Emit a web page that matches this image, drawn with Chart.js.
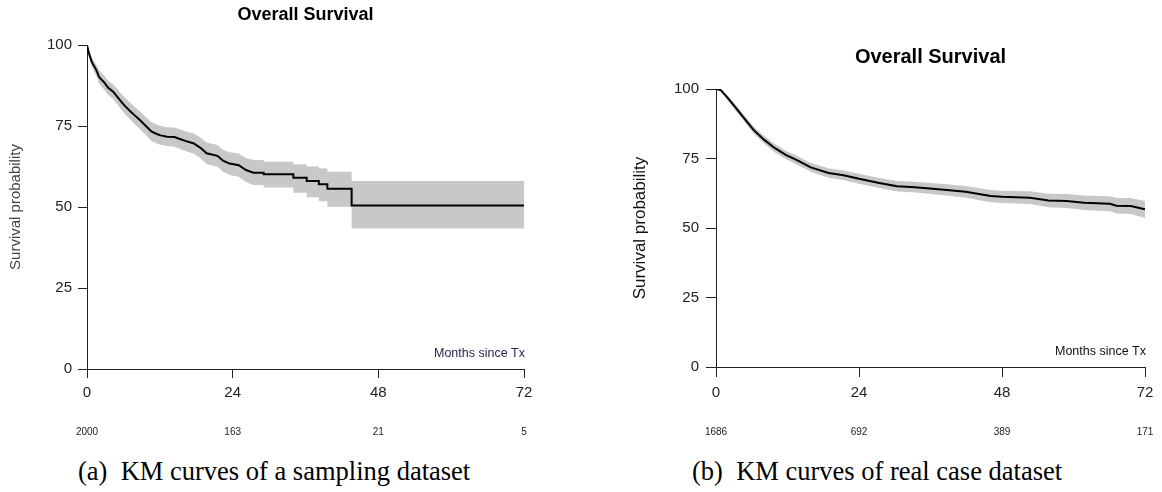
<!DOCTYPE html>
<html>
<head>
<meta charset="utf-8">
<script src="https://cdn.jsdelivr.net/npm/chart.js@4.4.1/dist/chart.umd.min.js"></script>
<style>
  body { margin: 0; background: #fff; width: 1162px; height: 492px; overflow: hidden; position: relative; }
  .panel { position: absolute; top: 0; height: 445px; }
  .caption { position: absolute; top: 456px; font-family: "Liberation Serif", "Times New Roman", serif; font-size: 26.5px; color: #000; white-space: pre; }
</style>
</head>
<body>
<div class="panel" style="left:0;width:560px"><canvas id="leftChart"></canvas></div>
<div class="panel" style="left:600px;width:562px"><canvas id="rightChart"></canvas></div>
<div class="caption" style="left:78px">(a)  KM curves of a sampling dataset</div>
<div class="caption" style="left:692px">(b)  KM curves of real case dataset</div>
<script>
// sampling dataset (left)
const leftTimes = [0, 0.3, 0.8, 1.5, 2.0, 2.8, 3.5, 4.3, 5.0, 5.6, 6.2, 7.0, 7.9, 8.8, 9.7, 10.6, 11.4, 12.1, 13.2, 14.4,
  15.3, 16.2, 17.6, 18.8, 19.7, 21.5, 22.4, 23.5, 25.0, 26.2, 27.4, 29.1, 29.1, 34.0, 34.0, 36.2, 36.2, 38.2, 38.2,
  39.6, 39.6, 43.6, 43.6, 72];
const leftSurv = [100, 97.5, 94.7, 92.4, 90.1, 88.5, 86.8, 85.6, 84.0, 82.6, 81.3, 79.8, 78.2, 76.7, 75.0, 73.3, 72.6, 72.1, 71.7, 71.6,
  71.0, 70.4, 69.6, 68.1, 66.6, 65.8, 64.3, 63.4, 62.9, 61.4, 60.6, 60.6, 60.1, 60.1, 59.0, 59.0, 58.0, 58.0, 57.0,
  57.0, 55.6, 55.6, 50.5, 50.5];
const leftUpper = [100, 98.5, 96.2, 94.0, 92.2, 90.6, 89.0, 87.9, 86.4, 85.0, 83.8, 82.4, 80.9, 79.4, 77.8, 76.2, 75.5, 75.0, 74.6, 74.5,
  74.0, 73.4, 72.7, 71.3, 69.9, 69.1, 67.7, 66.9, 66.5, 65.1, 64.5, 64.5, 64.0, 64.0, 63.2, 63.2, 62.5, 62.5, 61.9,
  61.9, 60.9, 60.9, 58.0, 58.0];
const leftLower = [100, 96.5, 93.2, 90.6, 88.1, 86.3, 84.6, 83.3, 81.6, 80.2, 78.8, 77.2, 75.5, 73.9, 72.2, 70.4, 69.7, 69.2, 68.8, 68.6,
  68.0, 67.3, 66.4, 64.9, 63.3, 62.4, 60.9, 59.9, 59.3, 57.7, 56.8, 56.8, 56.0, 56.0, 54.4, 54.4, 53.0, 53.0, 51.8,
  51.8, 50.1, 50.1, 43.4, 43.4];
const leftRisk = ["2000", "163", "21", "5"];

// real case dataset (right)
const rightTimes = [0, 0.8, 2.0, 3.3, 4.5, 6.3, 8.1, 9.9, 11.7, 13.5, 15.9, 18.9, 21.4, 24, 27.4, 30.4, 33.4, 38.3, 41.9,
  46.1, 48, 52.7, 55.8, 58.8, 61.8, 66.1, 67.2, 69.6, 72];
const rightSurv = [100, 99.6, 96.7, 93.3, 90.1, 85.3, 81.7, 78.7, 76.3, 74.5, 71.8, 69.8, 69.0, 67.7, 66.2, 65.0, 64.7, 63.8, 63.0,
  61.5, 61.2, 60.9, 59.9, 59.7, 59.1, 58.7, 58.0, 57.9, 56.7];
const rightUpper = [100, 99.9, 97.6, 94.4, 91.3, 86.6, 83.1, 80.2, 77.8, 76.1, 73.4, 71.5, 70.7, 69.5, 68.0, 66.9, 66.6, 65.8, 65.1,
  63.7, 63.4, 63.2, 62.3, 62.2, 61.7, 61.4, 60.8, 60.8, 59.7];
const rightLower = [100, 99.3, 95.8, 92.2, 88.9, 84.0, 80.3, 77.2, 74.8, 72.9, 70.2, 68.1, 67.3, 65.9, 64.4, 63.1, 62.8, 61.8, 60.9,
  59.3, 59.0, 58.6, 57.5, 57.2, 56.5, 56.0, 55.2, 55.0, 53.6];
const rightRisk = ["1686", "692", "389", "171"];

const xTicks = [0, 24, 48, 72];
const yTicks = [0, 25, 50, 75, 100];

Chart.defaults.font.family = '"Liberation Sans", Arial, sans-serif';
Chart.defaults.color = "#222";

function points(times, vals) {
    return times.map((t, i) => ({ x: t, y: vals[i] }));
}

// title over the plot area, "Months since Tx" and the number-at-risk row
const kmText = {
    id: "kmText",
    afterDraw(chart, args, opts) {
        const ctx = chart.ctx;
        const x = chart.scales.x;
        const area = chart.chartArea;
        ctx.save();
        ctx.font = 'bold ' + opts.titleSize + 'px "Liberation Sans", Arial, sans-serif';
        ctx.fillStyle = "#000";
        ctx.textAlign = "center";
        ctx.textBaseline = "middle";
        ctx.fillText("Overall Survival", (area.left + area.right) / 2, opts.titleY);
        ctx.font = '12.5px "Liberation Sans", Arial, sans-serif';
        ctx.fillStyle = opts.labelColor;
        ctx.textAlign = "right";
        ctx.fillText("Months since Tx", area.right + 1, area.bottom - 15);
        ctx.font = '10px "Liberation Sans", Arial, sans-serif';
        ctx.fillStyle = "#222";
        ctx.textAlign = "center";
        opts.risk.forEach((n, i) => {
            ctx.fillText(n, x.getPixelForValue(xTicks[i]), area.bottom + opts.riskOffset);
        });
        ctx.restore();
    }
};

function makeChart(id, times, surv, upper, lower, risk, cfg) {
    const ctx = document.getElementById(id).getContext("2d");
    return new Chart(ctx, {
        type: "line",
        data: {
            datasets: [
                { data: points(times, surv), borderColor: "#000", borderWidth: 2, pointRadius: 0, fill: false },
                { data: points(times, lower), borderColor: "rgba(0,0,0,0)", borderWidth: 0, pointRadius: 0, fill: false },
                { data: points(times, upper), borderColor: "rgba(0,0,0,0)", borderWidth: 0, pointRadius: 0,
                  fill: "-1", backgroundColor: "#c8c8c8" }
            ]
        },
        options: {
            responsive: true,
            maintainAspectRatio: false,
            animation: false,
            events: [],
            layout: { padding: { left: 0, right: cfg.padRight, top: cfg.padTop, bottom: 0 } },
            elements: { line: { tension: 0 } },
            plugins: {
                legend: { display: false },
                tooltip: { enabled: false },
                title: { display: false },
                kmText: { risk: risk, labelColor: cfg.labelColor, riskOffset: cfg.riskOffset,
                          titleSize: cfg.titleSize, titleY: cfg.titleY }
            },
            scales: {
                x: {
                    type: "linear",
                    min: 0,
                    max: 72,
                    afterBuildTicks: s => { s.ticks = xTicks.map(v => ({ value: v })); },
                    afterFit: s => { s.height = cfg.xHeight; },
                    ticks: { font: { size: 15 }, padding: cfg.tickPad, color: "#222" },
                    grid: { drawOnChartArea: false, tickLength: cfg.tickLen, color: "#222" },
                    border: { color: "#222" }
                },
                y: {
                    min: 0,
                    max: 100,
                    afterBuildTicks: s => { s.ticks = yTicks.map(v => ({ value: v })); },
                    afterFit: s => { s.width = cfg.yWidth; },
                    ticks: { font: { size: 15 }, padding: cfg.tickPad, color: "#222" },
                    grid: { drawOnChartArea: false, tickLength: cfg.tickLen, color: "#222" },
                    border: { color: "#222" },
                    title: {
                        display: true,
                        text: "Survival probability",
                        color: cfg.yTitleColor,
                        font: { size: cfg.yTitleSize },
                        padding: { top: cfg.yTitlePad, bottom: 0 }
                    }
                }
            }
        },
        plugins: [kmText]
    });
}

document.addEventListener("DOMContentLoaded", function() {
    makeChart("leftChart", leftTimes, leftSurv, leftUpper, leftLower, leftRisk, {
        padRight: 36, padTop: 45, titleSize: 18, titleY: 15, xHeight: 76, yWidth: 87,
        tickLen: 9, tickPad: 6, yTitleSize: 15, yTitlePad: 7, yTitleColor: "#444",
        labelColor: "#262650", riskOffset: 63
    });
    makeChart("rightChart", rightTimes, rightSurv, rightUpper, rightLower, rightRisk, {
        padRight: 17, padTop: 89, titleSize: 20, titleY: 57, xHeight: 78, yWidth: 116,
        tickLen: 10, tickPad: 7, yTitleSize: 17, yTitlePad: 30, yTitleColor: "#111",
        labelColor: "#111", riskOffset: 65
    });
});
</script>
</body>
</html>
